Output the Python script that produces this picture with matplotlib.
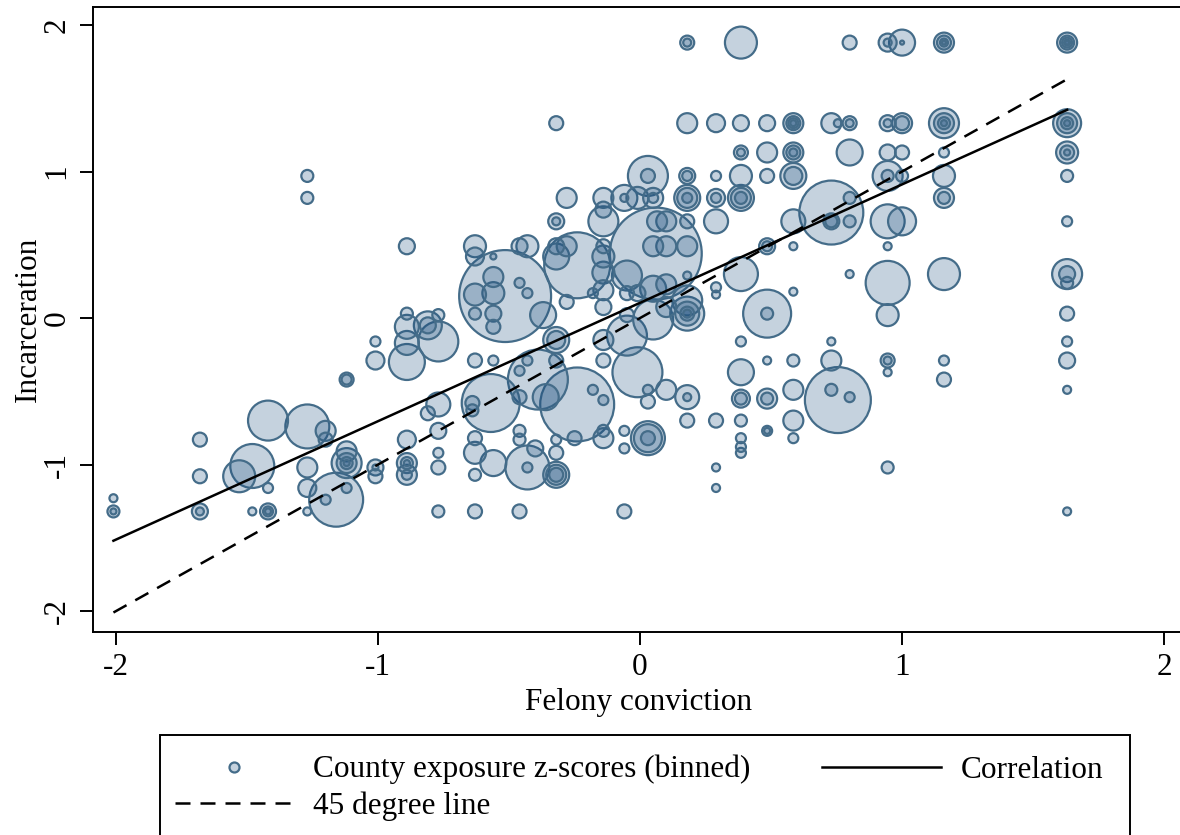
import numpy as np
import matplotlib.pyplot as plt
from matplotlib.lines import Line2D
from matplotlib.patches import Rectangle

plt.rcParams['font.family'] = ['Liberation Serif', 'DejaVu Serif']
plt.rcParams['axes.unicode_minus'] = False

# binned county z-scores: x bins, the y values in each bin, and bin weights
bin_x = [-2.01, -1.68, -1.53, -1.48, -1.42, -1.27, -1.20, -1.16, -1.12, -1.01,
         -0.89, -0.81, -0.77, -0.63, -0.64, -0.57, -0.56, -0.515, -0.46, -0.43,
         -0.39, -0.40, -0.37, -0.36, -0.32, -0.28, -0.24, -0.25, -0.18, -0.14,
         -0.06, -0.05, -0.01, 0.03, 0.05, 0.06, 0.065, 0.10, 0.18, 0.29,
         0.385, 0.485, 0.585, 0.73, 0.755, 0.80, 0.945, 1.00, 1.16, 1.63]

bin_y = [
    [-1.23, -1.32, -1.32],
    [-0.83, -1.08, -1.32, -1.32],
    [-1.08],
    [-1.01, -1.32],
    [-0.70, -1.16, -1.32, -1.32, -1.32],
    [0.97, 0.82, -0.74, -1.02, -1.16, -1.32],
    [-0.77, -0.83, -1.24],
    [-1.24],
    [-0.99, -0.99, -0.99, -0.99, -0.91, -1.16, -0.42, -0.42],
    [-1.02, -1.02, -1.08, -0.16, -0.29],
    [0.49, 0.03, -0.06, -0.17, -0.30, -0.83, -0.99, -0.99, -0.99, -1.07, -1.07],
    [-0.05, -0.05, -0.65],
    [0.02, -0.16, -0.59, -0.77, -0.92, -1.02, -1.32],
    [0.49, 0.42, 0.16, 0.03, -0.29, -0.82, -0.92, -1.07, -1.32],
    [-0.58, -0.63],
    [-0.58],
    [0.42, 0.28, 0.17, 0.03, -0.06, -0.29, -0.99],
    [0.15],
    [0.49, 0.24, -0.36, -0.54, -0.77, -0.83, -1.32],
    [0.49, 0.17, -1.02, -1.02, -0.29],
    [-0.42],
    [-0.89],
    [0.02],
    [-0.54],
    [1.33, 0.66, 0.66, 0.49, 0.42, -0.15, -0.15, -0.29, -0.83, -0.92, -1.07, -1.07, -1.07],
    [0.82, 0.49, 0.11],
    [0.36, -0.59],
    [-0.82],
    [0.17, -0.49],
    [0.82, 0.74, 0.66, 0.49, 0.42, 0.31, 0.19, 0.075, -0.15, -0.29, -0.56, -0.77, -0.82],
    [0.82, 0.82, -0.77, -0.89, -1.32],
    [0.29, 0.17, 0.02, -0.12],
    [0.82, 0.17, -0.37],
    [0.97, 0.97, -0.49, -0.57, -0.82, -0.82, -0.82],
    [0.82, 0.82, 0.49, 0.20, -0.01],
    [0.44],
    [0.66],
    [0.66, 0.49, 0.23, 0.075, -0.49],
    [1.88, 1.88, 1.33, 0.97, 0.97, 0.82, 0.82, 0.82, 0.66, 0.49, 0.29, 0.12, 0.03, 0.03, 0.03, 0.03, -0.54, -0.54, -0.70],
    [1.33, 0.97, 0.82, 0.82, 0.66, 0.21, 0.16, -0.70, -1.02, -1.16],
    [1.88, 1.33, 1.13, 1.13, 0.97, 0.82, 0.82, 0.82, 0.30, -0.16, -0.37, -0.55, -0.55, -0.70, -0.82, -0.88, -0.92],
    [1.33, 1.13, 0.97, 0.49, 0.49, 0.03, 0.03, -0.29, -0.55, -0.55, -0.77, -0.77],
    [1.33, 1.33, 1.33, 1.33, 1.13, 1.13, 1.13, 0.97, 0.97, 0.66, 0.49, 0.18, -0.29, -0.49, -0.70, -0.82],
    [1.33, 0.72, 0.66, 0.66, -0.16, -0.29, -0.49],
    [1.33, -0.56],
    [1.88, 1.33, 1.33, 1.13, 0.82, 0.66, 0.30, -0.54],
    [1.88, 1.88, 1.33, 1.33, 1.13, 0.97, 0.97, 0.66, 0.49, 0.24, 0.02, -0.29, -0.29, -0.37, -1.02],
    [1.88, 1.88, 1.33, 1.33, 1.13, 0.97, 0.66],
    [1.88, 1.88, 1.88, 1.88, 1.33, 1.33, 1.33, 1.33, 1.13, 0.97, 0.82, 0.82, 0.30, -0.29, -0.42],
    [1.88, 1.88, 1.88, 1.88, 1.88, 1.33, 1.33, 1.33, 1.33, 1.13, 1.13, 1.13, 0.97, 0.66, 0.30, 0.30, 0.24, 0.03, -0.16, -0.29, -0.49, -1.32],
]

bin_w = [
    [16, 36, 9],
    [49, 49, 64, 16],
    [256],
    [484, 16],
    [400, 25, 64, 25, 9],
    [36, 36, 484, 100, 81, 16],
    [100, 49, 25],
    [729],
    [225, 100, 36, 9, 100, 25, 49, 25],
    [64, 9, 49, 25, 81],
    [64, 36, 144, 144, 324, 81, 100, 36, 9, 100, 25],
    [196, 64, 49],
    [36, 400, 144, 64, 25, 49, 36],
    [121, 81, 121, 36, 49, 49, 121, 36, 49],
    [49, 36],
    [841],
    [9, 100, 121, 64, 49, 25, 169],
    [2116],
    [64, 25, 25, 49, 36, 36, 49],
    [121, 25, 484, 25, 25],
    [900],
    [64],
    [169],
    [169],
    [49, 64, 16, 64, 169, 169, 81, 49, 25, 49, 169, 100, 49],
    [100, 100, 49],
    [1089, 1369],
    [49],
    [25, 25],
    [100, 64, 225, 49, 121, 121, 100, 64, 100, 49, 25, 36, 100],
    [169, 16, 25, 25, 49],
    [225, 49, 49, 400],
    [121, 64, 625],
    [400, 49, 25, 49, 289, 196, 49],
    [100, 25, 100, 169, 400],
    [2116],
    [100],
    [100, 100, 100, 100, 100],
    [49, 16, 100, 64, 25, 169, 100, 25, 49, 100, 16, 225, 289, 144, 49, 16, 144, 16, 49],
    [81, 25, 81, 25, 144, 25, 16, 49, 16, 16],
    [256, 64, 49, 16, 121, 169, 100, 36, 289, 25, 169, 81, 36, 36, 25, 25, 25],
    [64, 100, 49, 64, 25, 576, 36, 16, 100, 36, 25, 9],
    [100, 49, 25, 9, 100, 49, 16, 169, 81, 144, 16, 16, 36, 100, 100, 25],
    [100, 1024, 64, 36, 16, 100, 36],
    [16, 1089],
    [49, 49, 16, 169, 36, 36, 16, 25],
    [81, 16, 64, 16, 64, 225, 36, 289, 16, 484, 121, 49, 16, 16, 36],
    [169, 4, 100, 49, 49, 36, 196],
    [100, 49, 16, 4, 225, 100, 36, 9, 25, 121, 100, 36, 256, 25, 49],
    [100, 49, 25, 9, 4, 196, 100, 36, 9, 121, 49, 9, 36, 25, 225, 64, 36, 49, 25, 64, 16, 16],
]

corr_slope = 0.808
corr_intercept = 0.104

xs, ys, ws = [], [], []
for bx, yl, wl in zip(bin_x, bin_y, bin_w):
    for yv, wv in zip(yl, wl):
        xs.append(bx)
        ys.append(yv)
        ws.append(wv)
xs = np.array(xs)
ys = np.array(ys)
ws = np.array(ws, dtype=float)

W, H = 1180, 835
fig = plt.figure(figsize=(W / 100, H / 100), dpi=100)
ax = fig.add_axes([93 / W, (H - 632) / H, (1190 - 93) / W, (632 - 7) / H])

face = (27 / 255, 79 / 255, 127 / 255, 0.25)
edge = '#446c89'

order = np.argsort(-ws)
ax.scatter(xs[order], ys[order], s=ws[order] * 2.07, facecolors=[face],
           edgecolors=edge, linewidths=1.6, zorder=2)

xl = np.array([xs.min(), xs.max()])
ax.plot(xl, corr_intercept + corr_slope * xl, color='black', lw=1.8, zorder=3)
ax.plot(xl, xl, color='black', lw=1.8, dashes=(6, 4), zorder=3)

ax.set_xlim(-2.088, 2.099)
ax.set_ylim(-2.143, 2.123)
ticks = [-2, -1, 0, 1, 2]
ax.set_xticks(ticks)
ax.set_xticklabels([str(t) for t in ticks])
ax.set_yticks(ticks)
ax.set_yticklabels([str(t) for t in ticks], rotation=90, va='center')
ax.tick_params(direction='out', length=9.4, width=1.4, labelsize=22.5, pad=6)
for sp in ax.spines.values():
    sp.set_linewidth(1.4)
ax.spines['right'].set_visible(False)

ax.set_xlabel('Felony conviction', fontsize=22.5)
ax.xaxis.set_label_coords(0.497, -0.0896)
ax.set_ylabel('Incarceration', fontsize=22.5)
ax.yaxis.set_label_coords(-0.046, 0.5)

# legend box runs off the bottom of the image
box = Rectangle((160 / W, -0.1), (1130 - 160) / W, (H - 735) / H + 0.1,
                transform=fig.transFigure, fill=False, lw=1.4, edgecolor='black')
fig.add_artist(box)

handles = [
    Line2D([], [], marker='o', ls='none', markersize=7.2, mfc=face, mec=edge, mew=1.6),
    Line2D([], [], color='black', lw=1.8, dashes=(6, 4)),
    Line2D([], [], color='black', lw=1.8),
]
labels = ['County exposure z-scores (binned)', '45 degree line', 'Correlation']
fig.legend(handles, labels, ncol=2, loc='upper left',
           bbox_to_anchor=(175 / W, 1 - 755 / H), frameon=False, fontsize=22.5,
           handlelength=3.78, handletextpad=0.64, columnspacing=2.3,
           labelspacing=0.21, borderpad=0, borderaxespad=0)

fig.savefig('out.png', dpi=100)
